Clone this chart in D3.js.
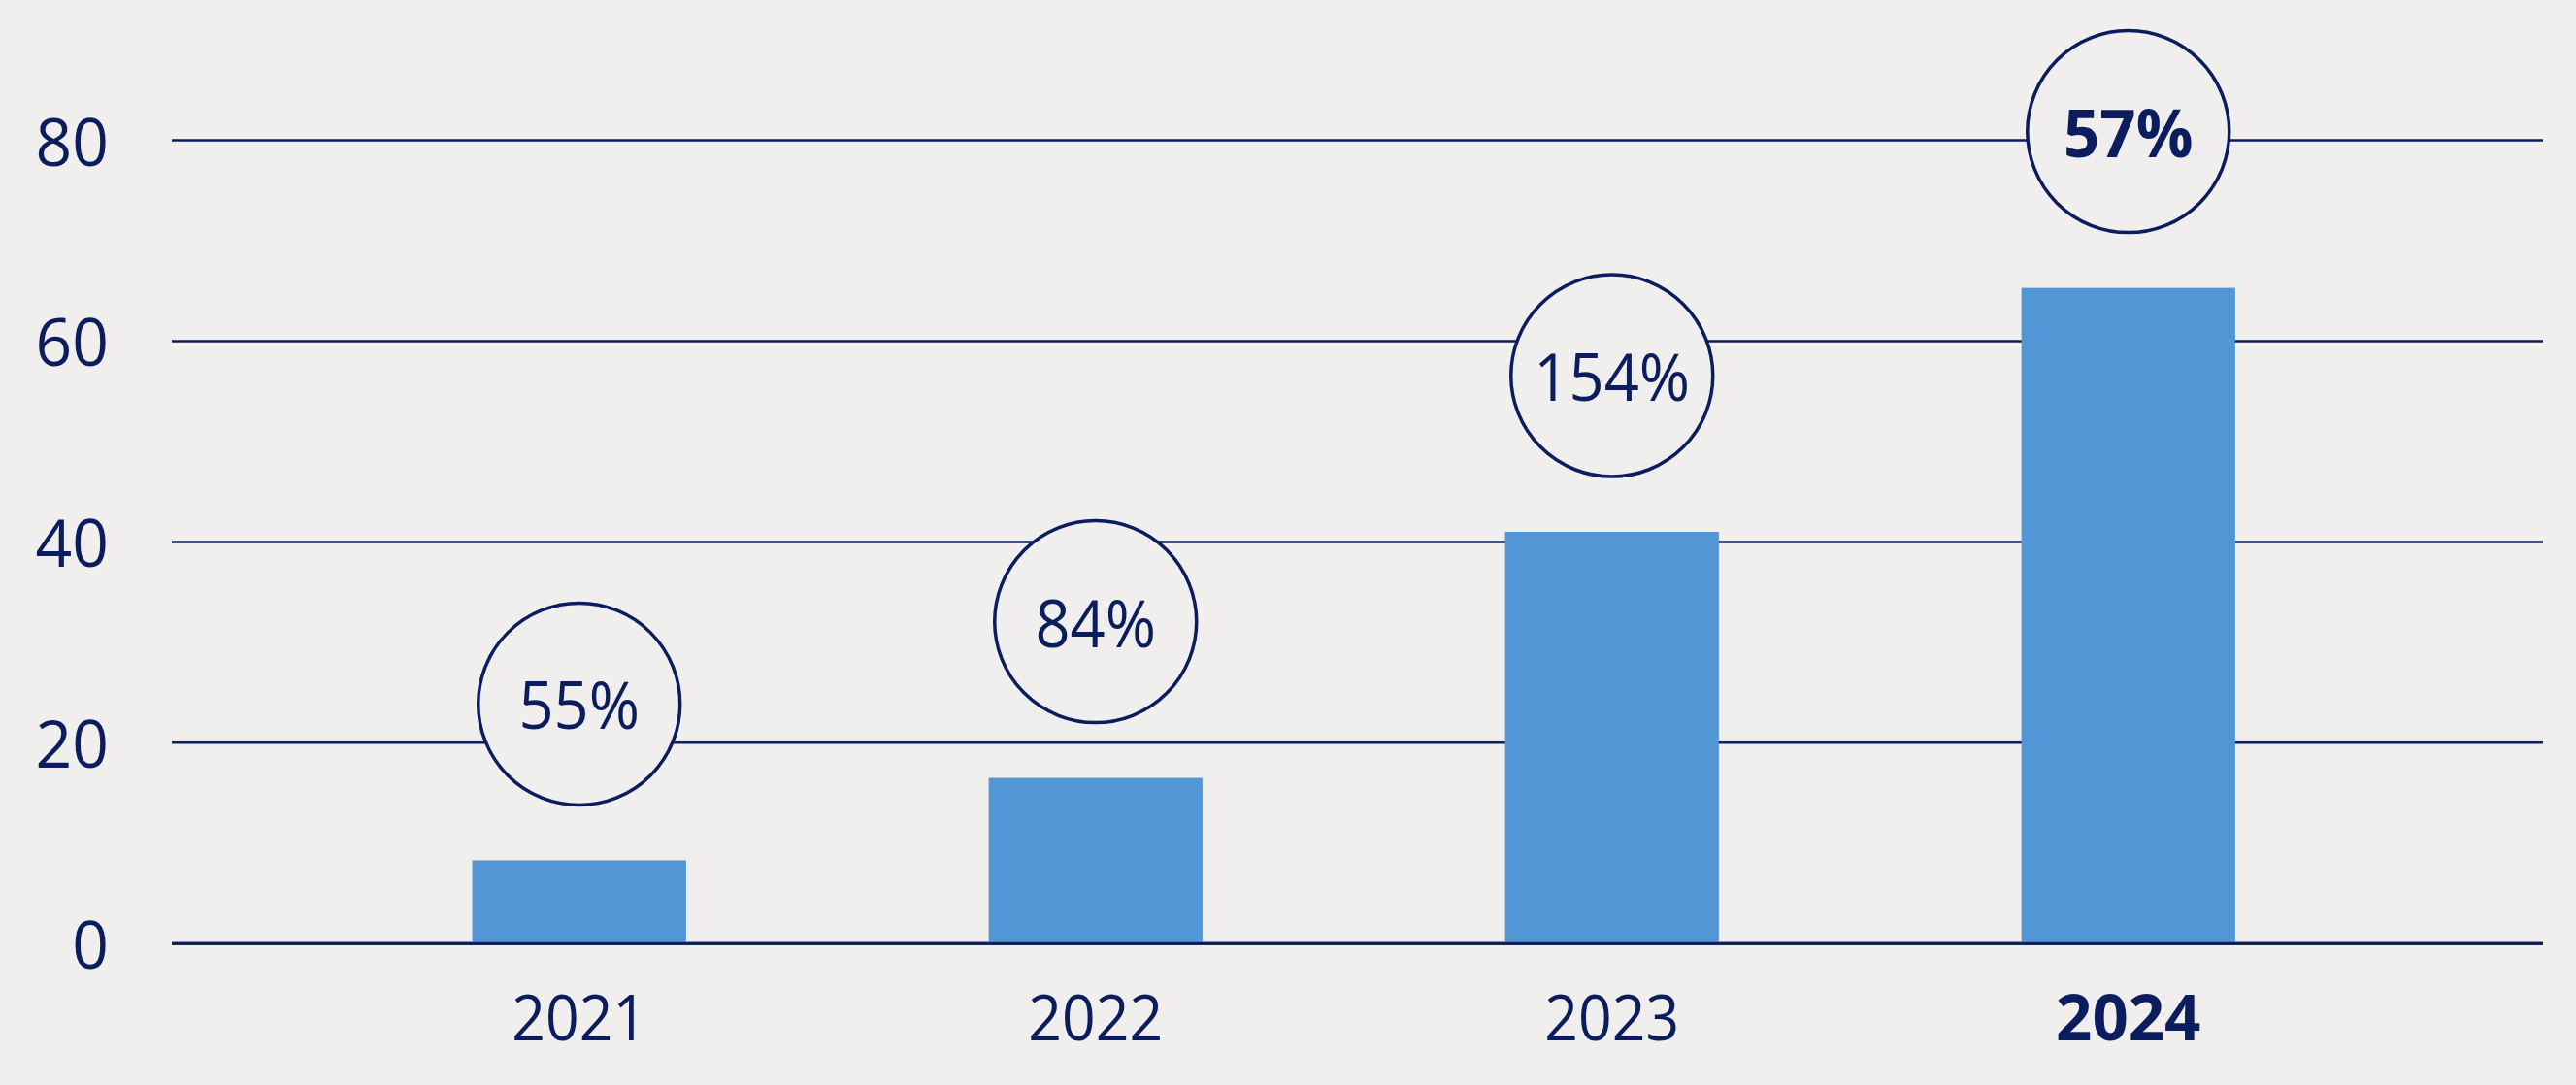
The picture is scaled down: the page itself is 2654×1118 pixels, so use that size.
<!DOCTYPE html>
<html>
<head>
<meta charset="utf-8">
<script src="https://cdn.jsdelivr.net/npm/d3@7"></script>
<style>
  html, body { margin: 0; padding: 0; background: #f0efed; }
  svg { display: block; }
  text {
    font-family: "Open Sans", "Noto Sans", sans-serif;
    fill: #0b1d5e;
  }
</style>
</head>
<body>
<svg id="chart" width="2654" height="1118"></svg>
<script>
// ---- data ----
const years = ["2021", "2022", "2023", "2024"];
const values = [8.3, 16.5, 41.0, 65.3];
const growthLabels = ["55%", "84%", "154%", "57%"];
const highlight = [false, false, false, true];
const yTicks = [0, 20, 40, 60, 80];

// ---- layout ----
const W = 2654, H = 1118;
const navy = "#0b1d5e";
const barColor = "#5396d6";
const bg = "#f0efed";

const svg = d3.select("#chart");
svg.append("rect").attr("width", W).attr("height", H).attr("fill", bg);

const x = d3.scaleBand()
  .domain(years)
  .range([177, 2620])
  .paddingInner(0.586)
  .paddingOuter(0.589)
  .align(0.494);

const y = d3.scaleLinear().domain([0, 80]).range([972.3, 144.5]);

// gridlines
svg.append("g").selectAll("line")
  .data(yTicks)
  .join("line")
  .attr("x1", 177).attr("x2", 2620)
  .attr("y1", d => y(d)).attr("y2", d => y(d))
  .attr("stroke", navy)
  .attr("stroke-width", d => d === 0 ? 3 : 2.5);

// y tick labels
svg.append("g").selectAll("text")
  .data(yTicks)
  .join("text")
  .attr("transform", d => `translate(112,${y(d) + 26}) scale(0.97,1)`)
  .attr("text-anchor", "end")
  .attr("font-size", 68)
  .text(d => d);

// bars
svg.append("g").selectAll("rect")
  .data(years)
  .join("rect")
  .attr("x", d => x(d))
  .attr("width", x.bandwidth())
  .attr("y", (d, i) => y(values[i]))
  .attr("height", (d, i) => y(0) - y(values[i]) - 1.5)
  .attr("fill", barColor);

// redraw baseline on top
svg.append("line")
  .attr("x1", 177).attr("x2", 2620)
  .attr("y1", y(0)).attr("y2", y(0))
  .attr("stroke", navy).attr("stroke-width", 3);

// growth circles
const bubbleOffset = 161;
const g = svg.append("g").selectAll("g")
  .data(years)
  .join("g")
  .attr("transform", (d, i) => `translate(${x(d) + x.bandwidth() / 2},${y(values[i]) - bubbleOffset})`);

g.append("circle")
  .attr("r", 104)
  .attr("fill", bg)
  .attr("stroke", navy)
  .attr("stroke-width", 3.5);

g.append("text")
  .attr("text-anchor", "middle")
  .attr("transform", (d, i) => `translate(0,26) scale(${highlight[i] ? 0.96 : 0.93},1)`)
  .attr("font-size", 68)
  .attr("font-weight", (d, i) => highlight[i] ? 700 : 400)
  .text((d, i) => growthLabels[i]);

// x labels
svg.append("g").selectAll("text")
  .data(years)
  .join("text")
  .attr("transform", (d, i) => `translate(${x(d) + x.bandwidth() / 2},1072) scale(${highlight[i] ? 0.99 : 0.92},1)`)
  .attr("text-anchor", "middle")
  .attr("font-size", 66)
  .attr("font-weight", (d, i) => highlight[i] ? 700 : 400)
  .text(d => d);
</script>
</body>
</html>
